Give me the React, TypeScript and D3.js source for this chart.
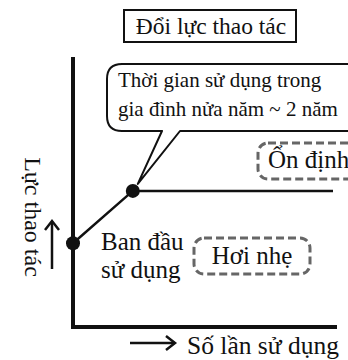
import * as d3 from "d3";

// usage count (relative) vs operating force (relative)
const usage = [0, 23, 100];
const force = [31, 50.4, 50.4];
const dotIdx = [0, 1];

const titleText = "Đổi lực thao tác";
const calloutLines = ["Thời gian sử dụng trong", "gia đình nửa năm ~ 2 năm"];
const initialLines = ["Ban đầu", "sử dụng"];
const stableLabel = "Ổn định";
const lightLabel = "Hơi nhẹ";
const yLabel = "Lực thao tác";
const xLabel = "Số lần sử dụng";

const W = 348;
const H = 360;
const FONT = "'Liberation Serif', 'Times New Roman', serif";

export default function App() {
  const x = d3.scaleLinear().domain([0, 100]).range([73, 333]);
  const y = d3.scaleLinear().domain([0, 100]).range([327, 57]);

  const pts: [number, number][] = usage.map((u, i) => [x(u), y(force[i])]);
  const line = d3.line()(pts) ?? "";

  const p2 = pts[1];
  const tip: [number, number] = [p2[0] + 5, p2[1] - 7];

  return (
    <svg
      width={W}
      height={H}
      style={{ position: "absolute", left: 0, top: 0, background: "#fff" }}
      fontFamily={FONT}
    >
      {/* title */}
      <rect x={124} y={10} width={172} height={32} fill="none" stroke="#111" strokeWidth={2} />
      <text x={211} y={34} textAnchor="middle" fontSize={23.5} fill="#111">
        {titleText}
      </text>

      {/* axes */}
      <line x1={x(0)} x2={x(0)} y1={y(100)} y2={y(0) + 2} stroke="#111" strokeWidth={4} />
      <line x1={x(0) - 2} x2={x(100) + 4} y1={y(0)} y2={y(0)} stroke="#111" strokeWidth={4} />

      {/* curve */}
      <path d={line} fill="none" stroke="#111" strokeWidth={2.5} />
      {dotIdx.map((i) => (
        <circle key={i} cx={pts[i][0]} cy={pts[i][1]} r={7} fill="#111" />
      ))}

      {/* callout */}
      <path
        d={`M107,79 Q107,64 122,64 L350,64 L350,131 L180,131 L${tip[0]},${tip[1]} L162,131 L122,131 Q107,131 107,116 Z`}
        fill="#fff"
        stroke="#111"
        strokeWidth={2}
        strokeLinejoin="round"
      />
      {calloutLines.map((t, i) => (
        <text key={i} x={118} y={87 + i * 29} fontSize={21} fill="#111">
          {t}
        </text>
      ))}

      {/* stable label */}
      <rect
        x={258}
        y={143}
        width={110}
        height={36}
        rx={10}
        fill="none"
        stroke="#666"
        strokeWidth={3}
        strokeDasharray="8 4"
      />
      <text x={268} y={168} fontSize={25} fill="#111">
        {stableLabel}
      </text>

      {/* initial label */}
      {initialLines.map((t, i) => (
        <text key={i} x={101} y={250 + i * 28} fontSize={25} fill="#111">
          {t}
        </text>
      ))}
      <rect
        x={194}
        y={238}
        width={116}
        height={36}
        rx={10}
        fill="none"
        stroke="#666"
        strokeWidth={3}
        strokeDasharray="8 4"
      />
      <text x={252} y={264} textAnchor="middle" fontSize={25} fill="#111">
        {lightLabel}
      </text>

      {/* y label */}
      <text
        transform={`translate(25,217) rotate(90)`}
        textAnchor="middle"
        fontSize={24}
        fill="#111"
      >
        {yLabel}
      </text>
      <g stroke="#111" strokeWidth={2.5} fill="none">
        <line x1={52} x2={52} y1={269} y2={222} />
        <path d="M45,230 L52,221 L59,230" />
      </g>

      {/* x label */}
      <g stroke="#111" strokeWidth={2.5} fill="none">
        <line x1={130} x2={175} y1={343} y2={343} />
        <path d="M166,336 L175,343 L166,350" />
      </g>
      <text x={187} y={354} fontSize={25.5} fill="#111">
        {xLabel}
      </text>
    </svg>
  );
}
